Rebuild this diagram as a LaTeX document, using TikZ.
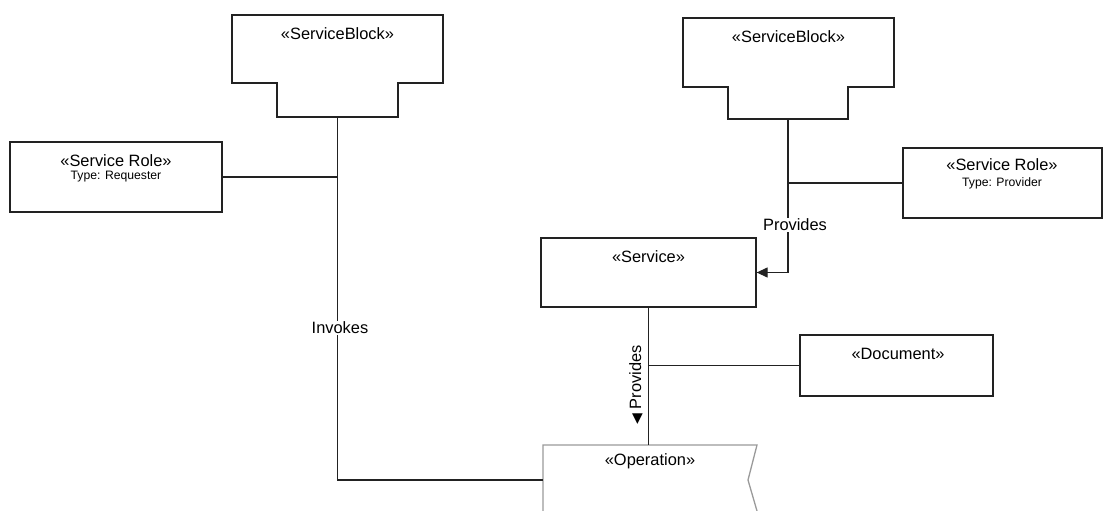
\documentclass[tikz,border=0pt]{standalone}
\usepackage{fontspec}
\setmainfont{Liberation Sans}
\newfontfamily\symfont{DejaVu Sans}
\usetikzlibrary{arrows.meta}
\definecolor{linegray}{HTML}{222222}
\definecolor{opgray}{HTML}{9A9A9A}

\begin{document}
\begin{tikzpicture}[x=1pt, y=-1pt, line width=1.3pt,
    box/.style={draw=linegray, rectangle, inner sep=0pt},
    stereo/.style={font=\fontsize{16.4}{19}\selectfont, inner sep=1pt},
    small/.style={font=\fontsize{12.2}{14}\selectfont, inner sep=1pt},
    lbl/.style={font=\fontsize{16.4}{19}\selectfont, fill=white, inner sep=1pt},
    wire/.style={draw=linegray}]
    \useasboundingbox (0,0) rectangle (1105,511);

    % Draw the two service blocks
    \foreach \n/\l/\r/\a/\b/\t/\s/\u in {L/232/443/277/398/15/83/117, R/683/894/728/848/18/87/119} {
        \draw[linegray] (\l,\t) -- (\r,\t) -- (\r,\s) -- (\b,\s) -- (\b,\u) -- (\a,\u) -- (\a,\s) -- (\l,\s) -- cycle;
        \coordinate (sb\n) at ({(\a+\b)/2},\u);
        \node[stereo] (sb\n txt) at ({(\l+\r)/2},{\t+19}) {«ServiceBlock»};
    }

    % Boxes
    \node[box, minimum width=212pt, minimum height=70pt] (roleL) at (116,177) {};
    \node[box, minimum width=199pt, minimum height=70pt] (roleR) at (1002.5,183) {};
    \node[box, minimum width=215pt, minimum height=69pt] (svc) at (648.5,272.5) {};
    \node[box, minimum width=193pt, minimum height=61pt] (doc) at (896.5,365.5) {};

    % Operation, cut off at the bottom
    \draw[opgray] (543,511) -- (543,445) -- (757,445) -- (748,480) -- (757,511);
    \coordinate (opN) at (648.5,445);
    \coordinate (opW) at (543,480);

    % Box texts
    \node[stereo] (roleLtxt) at (116,161) {«Service Role»};
    \node[small] (roleLtype) at (116,177) {Type: Requester};
    \node[stereo] (roleRtxt) at (1002,165) {«Service Role»};
    \node[small] (roleRtype) at (1002,183) {Type: Provider};
    \node[stereo] (svctxt) at (648.5,257) {«Service»};
    \node[stereo] (doctxt) at (898,354) {«Document»};
    \node[stereo] (optxt) at (650,461) {«Operation»};

    % Connectors
    \draw[wire] (sbL) -- (sbL |- opW) -- (opW);
    \draw[wire] (roleL.east) -- (sbL |- roleL.east);
    \draw[wire, -{Triangle[length=11pt,width=10pt]}] (sbR) -- (sbR |- svc.east) -- (svc.east);
    \draw[wire] (roleR.west) -- (sbR |- roleR.west);
    \draw[wire] (svc.south) -- (svc.south |- opN);
    \draw[wire] (doc.west) -- (svc.south |- doc.west);

    % Connector labels
    \node[lbl] (invokes) at (340,328) {Invokes};
    \node[lbl] (provA) at (795,225) {Provides};
    \node[lbl, fill=none, rotate=90] (provB) at (636,385) {{\symfont\fontsize{14}{16}\selectfont ◀} Provides};
\end{tikzpicture}
\end{document}
